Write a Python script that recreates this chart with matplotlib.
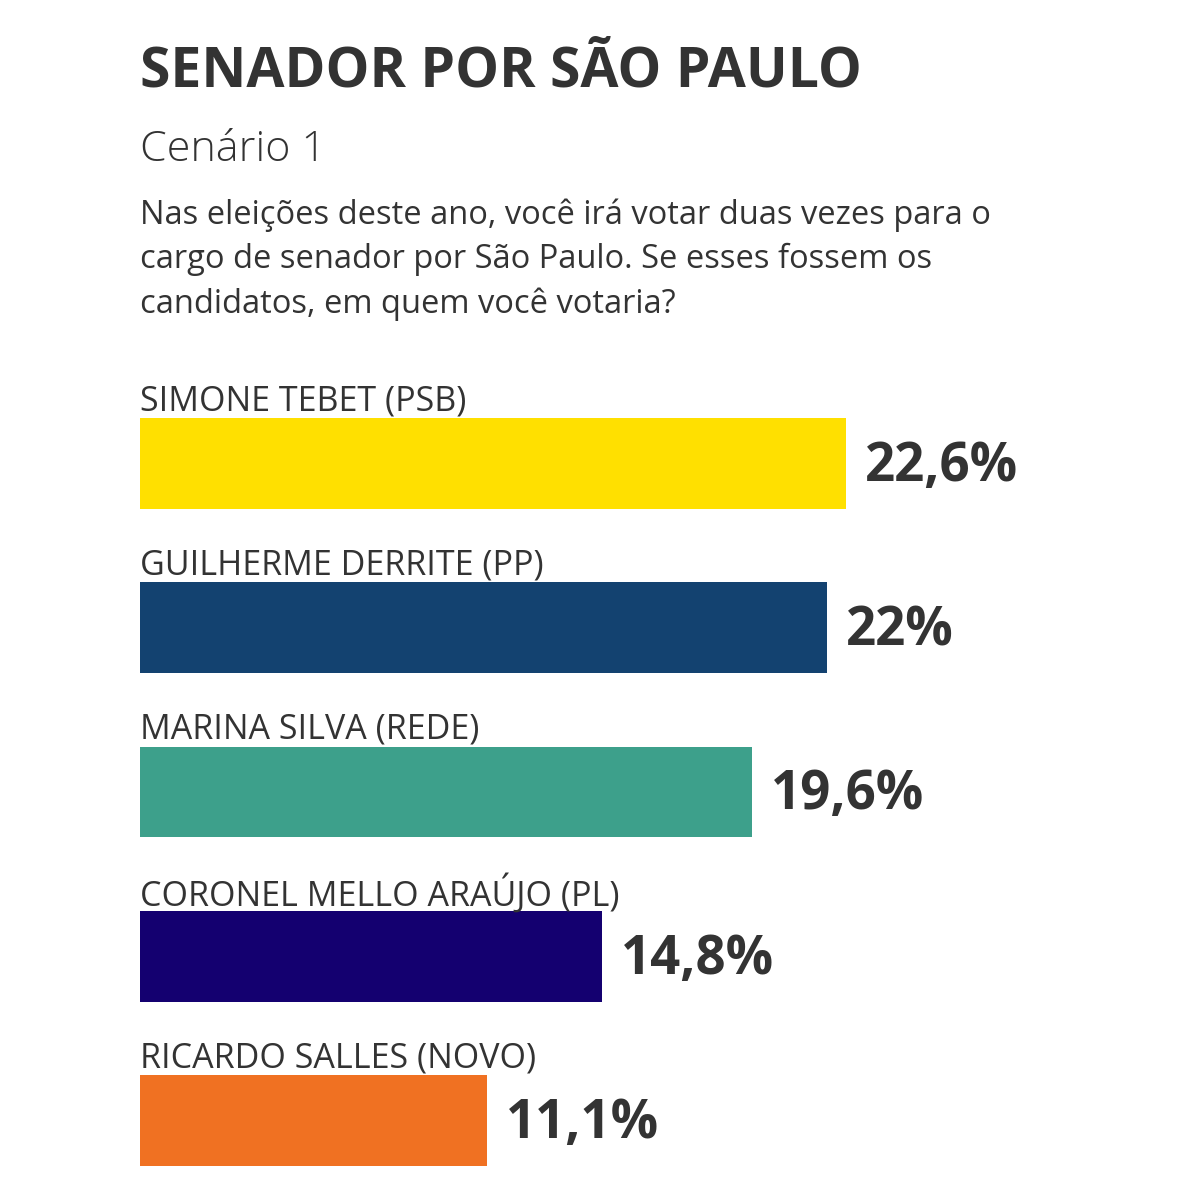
import matplotlib
matplotlib.use("Agg")
import matplotlib.pyplot as plt

# dados
candidatos = ["SIMONE TEBET (PSB)", "GUILHERME DERRITE (PP)", "MARINA SILVA (REDE)",
              "CORONEL MELLO ARAÚJO (PL)", "RICARDO SALLES (NOVO)"]
valores = [22.6, 22.0, 19.6, 14.8, 11.1]
rotulos = ["22,6%", "22%", "19,6%", "14,8%", "11,1%"]
cores = ["#FFE000", "#134270", "#3DA08B", "#140070", "#F07122"]

titulo = "SENADOR POR SÃO PAULO"
subtitulo = "Cenário 1"
pergunta = ("Nas eleições deste ano, você irá votar duas vezes para o\n"
            "cargo de senador por São Paulo. Se esses fossem os\n"
            "candidatos, em quem você votaria?")

plt.rcParams['font.family'] = ['Open Sans', 'DejaVu Sans']
texto = "#333333"

W = H = 1200
fig = plt.figure(figsize=(12, 12), dpi=100)
fig.patch.set_facecolor("white")

# eixo ocupa a figura toda; escala: 31.24 px por ponto percentual, zero em x=140
esc = 31.24
passo = 164.25
y0 = 463.5
ax = fig.add_axes([0, 0, 1, 1])
ax.set_xlim(-140 / esc, (W - 140) / esc)
ax.set_ylim((H - y0) / passo, -y0 / passo)
ax.axis("off")

pos = list(range(len(valores)))
ax.barh(pos, valores, height=0.554, color=cores)
for i, (nome, v, r) in enumerate(zip(candidatos, valores, rotulos)):
    ax.text(0, i - 0.38, nome, fontsize=24.5, color=texto, va="center", ha="left")
    ax.text(v + 0.6, i + 0.02, r, fontsize=38, fontweight="bold", color=texto,
            va="center", ha="left")

fig.text(140 / W, 1 - 72 / H, titulo, fontsize=39.8, fontweight="bold", color=texto,
         va="center", ha="left")
fig.text(140 / W, 1 - 150 / H, subtitulo, fontsize=31, fontweight="light", color=texto,
         va="center", ha="left")
fig.text(140 / W, 1 - 199 / H, pergunta, fontsize=23.5, color=texto, va="top", ha="left",
         linespacing=1.42)

fig.savefig("out.png", dpi=100, facecolor="white")
